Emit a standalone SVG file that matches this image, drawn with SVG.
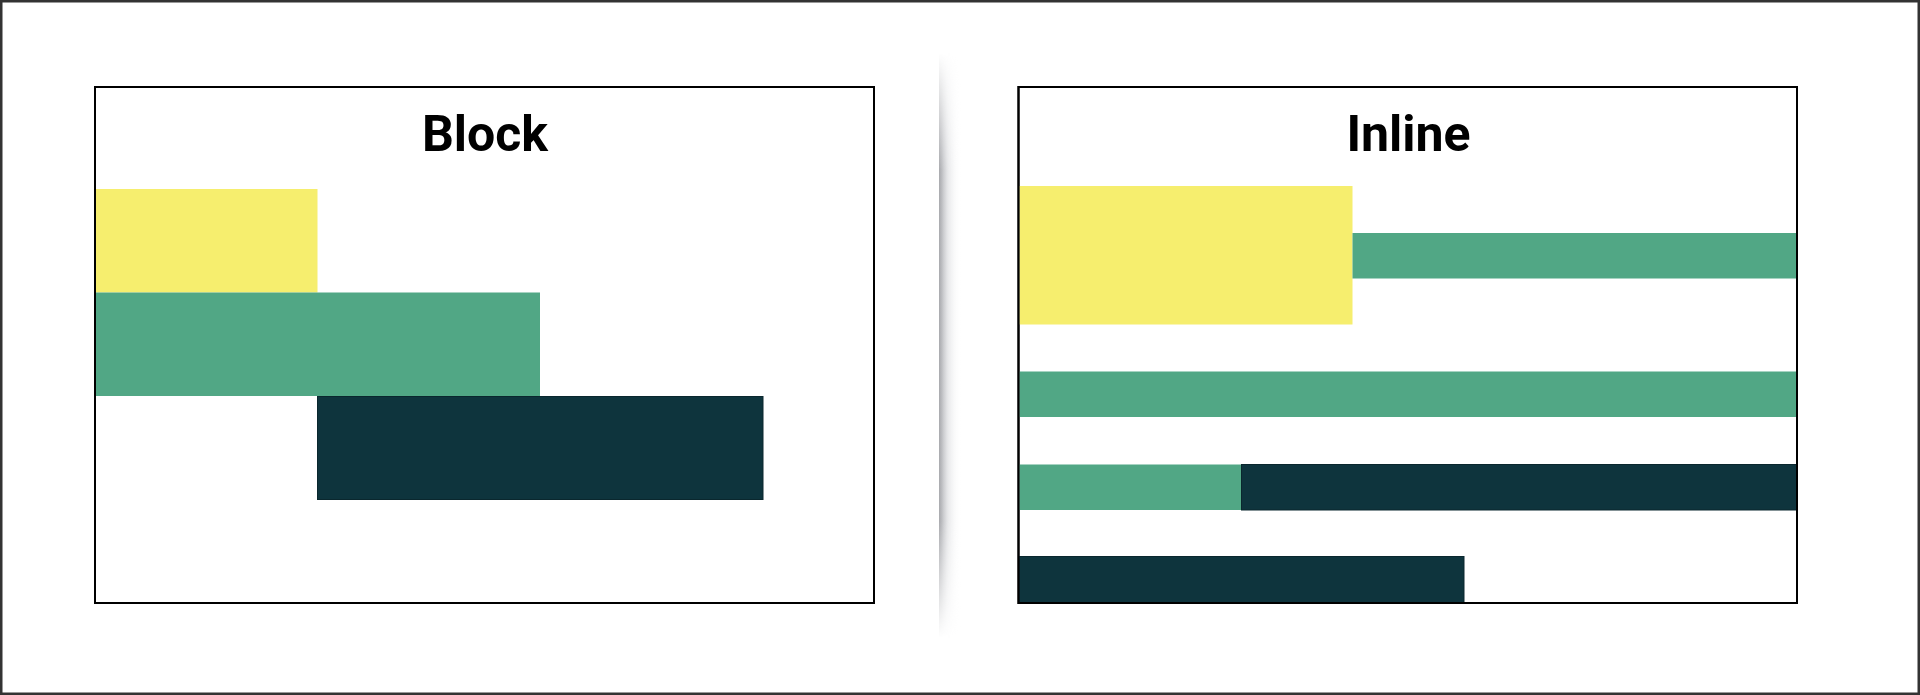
<svg xmlns="http://www.w3.org/2000/svg" width="1920" height="695" viewBox="0 0 1920 695">
  <defs>
    <style>
      .frame { fill: #ffffff; stroke: #000000; stroke-width: 2; }
      .title { font-family: Roboto, "Liberation Sans", sans-serif; font-weight: 700; font-size: 50px; fill: #000000; text-anchor: middle; }
      .yellow { fill: #F6EE6E; }
      .green { fill: #51A785; }
      .dark { fill: #0E343D; stroke: #0A272E; stroke-width: 1; }
    </style>
    <linearGradient id="shadeH" x1="0" y1="0" x2="1" y2="0">
      <stop offset="0" stop-color="#a8a9ad" stop-opacity="1"/>
      <stop offset="0.12" stop-color="#b4b5b9" stop-opacity="0.9"/>
      <stop offset="0.4" stop-color="#d8d9dc" stop-opacity="0.6"/>
      <stop offset="1" stop-color="#ffffff" stop-opacity="0"/>
    </linearGradient>
    <linearGradient id="fadeV" x1="0" y1="0" x2="0" y2="1">
      <stop offset="0" stop-color="#fff" stop-opacity="0"/>
      <stop offset="0.2" stop-color="#fff" stop-opacity="1"/>
      <stop offset="0.8" stop-color="#fff" stop-opacity="1"/>
      <stop offset="1" stop-color="#fff" stop-opacity="0"/>
    </linearGradient>
    <mask id="fadeMask" maskUnits="userSpaceOnUse" x="930" y="50" width="40" height="600">
      <rect x="930" y="53" width="40" height="585" fill="url(#fadeV)"/>
    </mask>
  </defs>

  <rect x="0" y="0" width="1920" height="695" fill="#ffffff"/>
  <rect x="1.25" y="1.25" width="1917.5" height="692.5" fill="none" stroke="#333333" stroke-width="2.5"/>

  <g id="divider-shadow">
    <rect x="939" y="53" width="22" height="585" fill="url(#shadeH)" mask="url(#fadeMask)"/>
  </g>

  <g id="block-panel">
    <rect class="frame" x="95" y="87" width="779" height="516"/>
    <rect id="block-yellow" class="yellow" x="96" y="189" width="221.5" height="103.5"/>
    <rect id="block-green" class="green" x="96" y="292.5" width="444" height="103.5"/>
    <rect id="block-dark" class="dark" x="317.5" y="396.5" width="445.5" height="103"/>
    <rect x="95" y="87" width="779" height="516" fill="none" stroke="#000" stroke-width="2"/>
    <text class="title" x="485" y="151">Block</text>
  </g>

  <g id="inline-panel">
    <rect class="frame" x="1018.5" y="87" width="778.5" height="516"/>
    <rect id="inline-yellow" class="yellow" x="1019.5" y="186" width="333" height="138.5"/>
    <rect id="inline-green-1" class="green" x="1352.5" y="233" width="444" height="45.5"/>
    <rect id="inline-green-2" class="green" x="1019.5" y="371.5" width="777" height="45.5"/>
    <rect id="inline-green-3" class="green" x="1019.5" y="464.5" width="222" height="45.5"/>
    <rect id="inline-dark-1" class="dark" x="1241.5" y="464.5" width="555" height="45.5"/>
    <rect id="inline-dark-2" class="dark" x="1019.5" y="556.5" width="444.5" height="46.5"/>
    <rect x="1018.5" y="87" width="778.5" height="516" fill="none" stroke="#000" stroke-width="2"/>
    <text class="title" x="1408.5" y="151">Inline</text>
  </g>

  <g id="connectors"></g>
</svg>
